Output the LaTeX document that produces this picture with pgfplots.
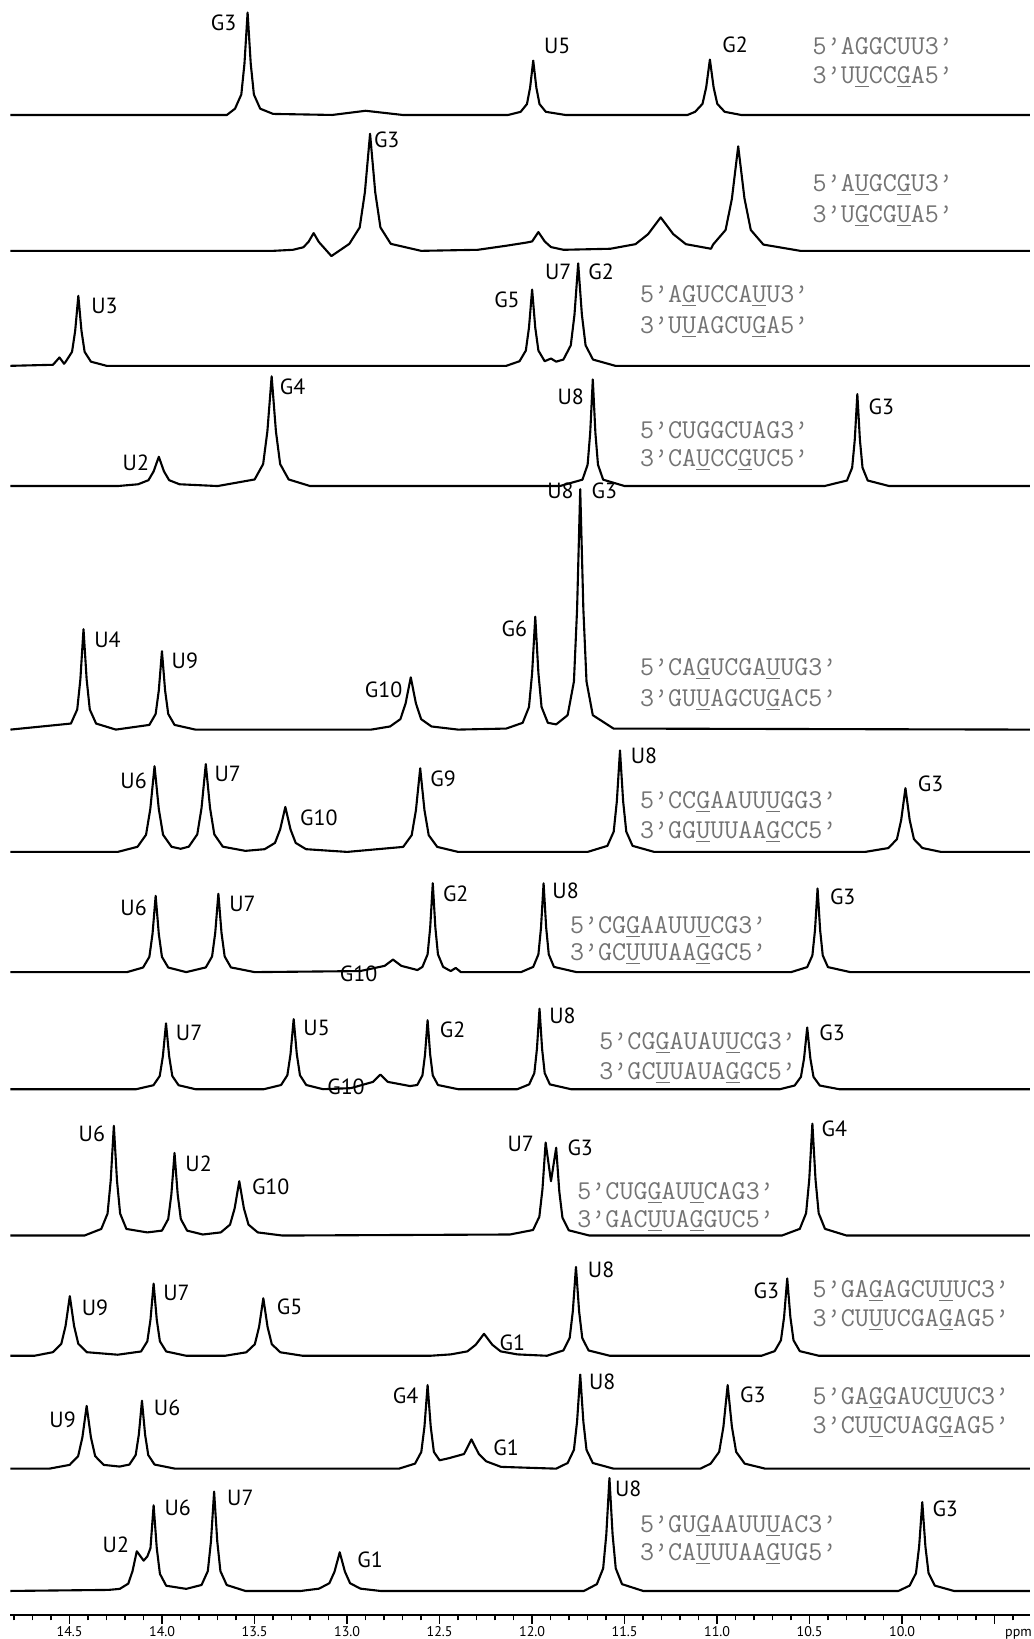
\documentclass[border=0pt]{standalone}
\usepackage{pgfplots}
\pgfplotsset{compat=1.18}
\usepackage{fontspec}
\setmainfont{PT Sans}
\newcommand\ul[1]{\underline{#1}}
\tikzset{
  lab/.style={font=\fontsize{12.5}{12.5}\selectfont, inner sep=0pt},
  seq/.style={font=\ttfamily\fontsize{15.5}{15.5}\selectfont, text=black!55, inner sep=0pt, anchor=west},
}
\begin{document}
\begin{tikzpicture}
\begin{axis}[
  name=ax,
  scale only axis, width=20.386cm, height=32.30cm,
  x dir=reverse, xmin=9.31, xmax=14.82, ymin=0, ymax=1545,
  axis x line*=bottom, axis y line=none,
  x axis line style={-, line width=1.6pt},
  xtick={9.5,10,10.5,11,11.5,12,12.5,13,13.5,14,14.5},
  xticklabels={,10.0,10.5,11.0,11.5,12.0,12.5,13.0,13.5,14.0,14.5},
  minor xtick={9.4,9.6,9.7,9.8,9.9,10.1,10.2,10.3,10.4,10.6,10.7,10.8,10.9,11.1,11.2,11.3,11.4,11.6,11.7,11.8,11.9,12.1,12.2,12.3,12.4,12.6,12.7,12.8,12.9,13.1,13.2,13.3,13.4,13.6,13.7,13.8,13.9,14.1,14.2,14.3,14.4,14.6,14.7,14.8},
  tick align=outside, major tick length=5pt, minor tick length=3pt,
  every tick/.style={black, line width=0.9pt},
  xticklabel style={font=\fontsize{8}{8}\selectfont, inner sep=1.5pt},
  /pgf/number format/assume math mode=true,
  clip=false,
  no markers,
  every axis plot post/.append style={black, solid, line width=1.2pt, line join=round, mark=none},
]
% spectrum 1
\addplot coordinates {(14.82,1435) (13.65,1435) (13.606,1441) (13.572,1454.6) (13.555,1484) (13.538,1533) (13.521,1484) (13.504,1454.6) (13.470,1441) (13.40,1436) (13.08,1435) (12.90,1439) (12.70,1435) (12.13,1435) (12.062,1438) (12.028,1445.4) (12.011,1461) (11.994,1487) (11.977,1461) (11.960,1445.4) (11.926,1438) (11.82,1435) (11.16,1435) (11.119,1438) (11.079,1445.6) (11.059,1461.5) (11.039,1488) (11.019,1461.5) (10.999,1445.6) (10.959,1438) (10.87,1435) (9.31,1435)};
% spectrum 2
\addplot coordinates {(14.82,1305) (13.40,1305) (13.293,1306) (13.237,1308.4) (13.209,1313.5) (13.181,1322) (13.153,1313.5) (13.085,1300) (12.988,1311.7) (12.932,1327.4) (12.904,1361) (12.876,1417) (12.848,1361) (12.820,1327.4) (12.764,1311.7) (12.60,1305) (12.294,1306) (12.136,1310) (12.028,1313) (12.000,1314) (11.966,1323) (11.932,1314) (11.898,1308.6) (11.830,1306) (11.577,1307) (11.441,1311.4) (11.373,1321) (11.305,1337) (11.237,1321) (11.169,1311.4) (11.033,1307) (11.022,1311) (10.954,1325) (10.920,1355) (10.886,1405) (10.852,1355) (10.818,1325) (10.750,1311) (10.55,1305) (9.31,1305)};
% spectrum 3
\addplot coordinates {(14.82,1195) (14.59,1196) (14.555,1203) (14.53,1197) (14.521,1199) (14.487,1208.4) (14.470,1228.5) (14.453,1262) (14.436,1228.5) (14.419,1208.4) (14.385,1199) (14.30,1195) (12.14,1195) (12.068,1199.4) (12.034,1209.6) (12.017,1231.5) (12.000,1268) (11.983,1231.5) (11.966,1209.6) (11.932,1199.4) (11.898,1202) (11.87,1199) (11.831,1201) (11.791,1214.6) (11.771,1244) (11.751,1293) (11.731,1244) (11.711,1214.6) (11.671,1201) (11.55,1195) (9.31,1195)};
% spectrum 4
\addplot coordinates {(14.82,1080) (14.24,1080) (14.130,1081.7) (14.074,1085.6) (14.046,1094) (14.018,1108) (13.990,1094) (13.962,1085.6) (13.906,1081.7) (13.70,1080) (13.500,1086.3) (13.454,1101) (13.431,1132.5) (13.408,1185) (13.385,1132.5) (13.362,1101) (13.316,1086.3) (13.20,1080) (11.85,1080) (11.728,1086.1) (11.700,1100.4) (11.686,1131) (11.672,1182) (11.658,1131) (11.644,1100.4) (11.616,1086.1) (11.50,1080) (10.42,1080) (10.298,1085.3) (10.270,1097.6) (10.256,1124) (10.242,1168) (10.228,1124) (10.214,1097.6) (10.186,1085.3) (10.07,1080) (9.31,1080)};
% spectrum 5
\addplot coordinates {(14.82,847) (14.493,852.8) (14.459,866.2) (14.442,895) (14.425,943) (14.408,895) (14.391,866.2) (14.357,852.8) (14.25,847) (14.069,851.5) (14.035,862) (14.018,884.5) (14.001,922) (13.984,884.5) (13.967,862) (13.933,851.5) (13.82,847) (12.87,847) (12.768,850) (12.712,857) (12.684,872) (12.656,897) (12.628,872) (12.600,857) (12.544,850) (12.40,847) (12.14,848) (12.051,853.5) (12.017,868.6) (12.000,901) (11.983,955) (11.966,901) (11.949,868.6) (11.915,853.5) (11.87,852) (11.808,860.8) (11.774,893) (11.757,962) (11.740,1077) (11.723,962) (11.706,893) (11.672,860.8) (11.56,848) (9.31,847)};
% spectrum 6
\addplot coordinates {(14.82,730) (14.24,730) (14.133,734.9) (14.087,746.4) (14.064,771) (14.041,812) (14.018,771) (13.995,746.4) (13.949,734.9) (13.90,733) (13.856,735) (13.810,746.8) (13.787,772) (13.764,814) (13.741,772) (13.718,746.8) (13.672,735) (13.55,731) (13.446,732.6) (13.390,738.6) (13.362,751.5) (13.334,773) (13.306,751.5) (13.278,738.6) (13.222,732.6) (13.00,730) (12.697,734.8) (12.651,746) (12.628,770) (12.605,810) (12.582,770) (12.559,746) (12.513,734.8) (12.40,730) (11.70,730) (11.593,735.8) (11.559,749.4) (11.542,778.5) (11.525,827) (11.508,778.5) (11.491,749.4) (11.457,735.8) (11.34,730) (10.20,730) (10.074,733.7) (10.028,742.2) (10.005,760.5) (9.982,791) (9.959,760.5) (9.936,742.2) (9.890,733.7) (9.79,730) (9.31,730)};
% spectrum 7
\addplot coordinates {(14.82,615) (14.19,615) (14.103,619.4) (14.069,629.6) (14.052,651.5) (14.035,688) (14.018,651.5) (14.001,629.6) (13.967,619.4) (13.87,615) (13.764,619.5) (13.730,630) (13.713,652.5) (13.696,690) (13.679,652.5) (13.662,630) (13.628,619.5) (13.50,615) (12.93,616) (12.797,621) (12.752,627) (12.707,621) (12.62,617) (12.593,620) (12.565,632) (12.551,657.5) (12.537,700) (12.523,657.5) (12.509,632) (12.481,620) (12.44,616) (12.413,619) (12.385,615) (12.06,615) (11.994,620) (11.966,632) (11.952,657.5) (11.938,700) (11.924,657.5) (11.910,632) (11.882,620) (11.76,615) (10.60,615) (10.513,619.8) (10.485,631) (10.471,655) (10.457,695) (10.443,655) (10.429,631) (10.401,619.8) (10.28,615) (9.31,615)};
% spectrum 8
\addplot coordinates {(14.82,503) (14.14,503) (14.047,506.8) (14.013,515.6) (13.996,534.5) (13.979,566) (13.962,534.5) (13.945,515.6) (13.911,506.8) (13.82,503) (13.45,503) (13.357,507) (13.323,516.4) (13.306,536.5) (13.289,570) (13.272,536.5) (13.255,516.4) (13.221,507) (13.13,503) (12.98,504) (12.860,510) (12.820,517) (12.780,510) (12.66,506) (12.621,507) (12.593,516.2) (12.579,536) (12.565,569) (12.551,536) (12.537,516.2) (12.509,507) (12.40,503) (12.08,503) (12.016,507.6) (11.988,518.4) (11.974,541.5) (11.960,580) (11.946,541.5) (11.932,518.4) (11.904,507.6) (11.79,503) (10.66,503) (10.581,506.5) (10.547,514.8) (10.530,532.5) (10.513,562) (10.496,532.5) (10.479,514.8) (10.445,506.5) (10.34,503) (9.31,503)};
% spectrum 9
\addplot coordinates {(14.82,363) (14.42,363) (14.329,369.3) (14.295,384) (14.278,415.5) (14.261,468) (14.244,415.5) (14.227,384) (14.193,369.3) (14.08,366) (14.001,367.7) (13.967,378.8) (13.950,402.5) (13.933,442) (13.916,402.5) (13.899,378.8) (13.865,367.7) (13.78,364) (13.683,366) (13.633,373.4) (13.608,389) (13.583,415) (13.558,389) (13.533,373.4) (13.483,366) (13.35,363) (12.12,364) (11.995,368.3) (11.961,381) (11.944,407.5) (11.927,452) (11.898,415) (11.870,447) (11.853,405) (11.836,380) (11.802,368) (11.69,363) (10.65,363) (10.553,369.4) (10.519,384.4) (10.502,416.5) (10.485,470) (10.468,416.5) (10.451,384.4) (10.417,369.4) (10.30,363) (9.31,363)};
% spectrum 10
\addplot coordinates {(14.82,248) (14.69,248) (14.591,251.4) (14.545,259.4) (14.522,276.5) (14.499,305) (14.476,276.5) (14.453,259.4) (14.407,251.4) (14.24,249) (14.114,252.1) (14.080,261.8) (14.063,282.5) (14.046,317) (14.029,282.5) (14.012,261.8) (13.978,252.1) (13.87,248) (13.66,248) (13.545,251.3) (13.499,259) (13.476,275.5) (13.453,303) (13.430,275.5) (13.407,259) (13.361,251.3) (13.24,248) (12.55,248) (12.440,249.3) (12.350,252.2) (12.305,258.5) (12.260,269) (12.215,258.5) (12.170,252.2) (12.080,249.3) (11.92,248) (11.831,253.1) (11.797,265) (11.780,290.5) (11.763,333) (11.746,290.5) (11.729,265) (11.695,253.1) (11.58,248) (10.76,248) (10.689,252.4) (10.655,262.8) (10.638,285) (10.621,322) (10.604,285) (10.587,262.8) (10.553,252.4) (10.45,248) (9.31,248)};
% spectrum 11
\addplot coordinates {(14.82,140) (14.61,140) (14.500,143.6) (14.454,152) (14.431,170) (14.408,200) (14.385,170) (14.362,152) (14.316,143.6) (14.23,142) (14.177,143.9) (14.143,153) (14.126,172.5) (14.109,205) (14.092,172.5) (14.075,153) (14.041,143.9) (13.93,140) (12.72,140) (12.633,144.8) (12.599,156) (12.582,180) (12.565,220) (12.548,180) (12.531,156) (12.50,148) (12.45,150) (12.368,154) (12.328,168) (12.288,154) (12.248,147) (12.168,141.7) (11.87,140) (11.808,145.4) (11.774,158) (11.757,185) (11.740,230) (11.723,185) (11.706,158) (11.672,145.4) (11.56,140) (11.09,140) (11.035,144.8) (10.989,156) (10.966,180) (10.943,220) (10.920,180) (10.897,156) (10.851,144.8) (10.74,140) (9.31,140)};
% spectrum 12
\addplot coordinates {(14.82,23) (14.29,24) (14.229,25) (14.183,30) (14.160,42) (14.137,61) (14.100,52) (14.080,56) (14.063,64) (14.046,105) (14.029,64) (14.012,39.4) (13.978,28) (13.87,25) (13.787,28.7) (13.753,42) (13.736,70.5) (13.719,118) (13.702,70.5) (13.685,42) (13.651,28.7) (13.55,23) (13.25,23) (13.152,25.2) (13.096,30.4) (13.068,41.5) (13.040,60) (13.012,41.5) (12.984,30.4) (12.928,25.2) (12.82,23) (11.72,23) (11.650,29.5) (11.616,44.6) (11.599,77) (11.582,131) (11.565,77) (11.548,44.6) (11.514,29.5) (11.40,23) (10.02,23) (9.959,28.1) (9.925,40) (9.908,65.5) (9.891,108) (9.874,65.5) (9.857,40) (9.823,28.1) (9.72,23) (9.31,23)};

% peak labels
\node[lab] at (axis cs:13.668,1523) {G3};
\node[lab] at (axis cs:11.864,1501) {U5};
\node[lab] at (axis cs:10.903,1502) {G2};
\node[lab] at (axis cs:12.786,1411) {G3};
\node[lab] at (axis cs:14.312,1252) {U3};
\node[lab] at (axis cs:12.136,1258) {G5};
\node[lab] at (axis cs:11.859,1285) {U7};
\node[lab] at (axis cs:11.627,1285) {G2};
\node[lab] at (axis cs:14.142,1102) {U2};
\node[lab] at (axis cs:13.295,1175) {G4};
\node[lab] at (axis cs:11.791,1165) {U8};
\node[lab] at (axis cs:10.112,1156) {G3};
\node[lab] at (axis cs:14.295,933) {U4};
\node[lab] at (axis cs:13.877,913) {U9};
\node[lab] at (axis cs:12.803,885) {G10};
\node[lab] at (axis cs:12.096,943) {G6};
\node[lab] at (axis cs:11.847,1075) {U8};
\node[lab] at (axis cs:11.610,1075) {G3};
\node[lab] at (axis cs:14.154,798) {U6};
\node[lab] at (axis cs:13.645,805) {U7};
\node[lab] at (axis cs:13.153,763) {G10};
\node[lab] at (axis cs:12.481,800) {G9};
\node[lab] at (axis cs:11.395,822) {U8};
\node[lab] at (axis cs:9.846,795) {G3};
\node[lab] at (axis cs:14.154,677) {U6};
\node[lab] at (axis cs:13.566,680) {U7};
\node[lab] at (axis cs:12.938,613) {G10};
\node[lab] at (axis cs:12.413,690) {G2};
\node[lab] at (axis cs:11.819,693) {U8};
\node[lab] at (axis cs:10.321,687) {G3};
\node[lab] at (axis cs:13.854,557) {U7};
\node[lab] at (axis cs:13.165,562) {U5};
\node[lab] at (axis cs:13.006,505) {G10};
\node[lab] at (axis cs:12.430,560) {G2};
\node[lab] at (axis cs:11.836,573) {U8};
\node[lab] at (axis cs:10.378,557) {G3};
\node[lab] at (axis cs:14.380,460) {U6};
\node[lab] at (axis cs:13.803,432) {U2};
\node[lab] at (axis cs:13.413,410) {G10};
\node[lab] at (axis cs:12.062,451) {U7};
\node[lab] at (axis cs:11.740,447) {G3};
\node[lab] at (axis cs:10.366,465) {G4};
\node[lab] at (axis cs:14.363,294) {U9};
\node[lab] at (axis cs:13.922,308) {U7};
\node[lab] at (axis cs:13.311,295) {G5};
\node[lab] at (axis cs:12.107,260) {G1};
\node[lab] at (axis cs:11.627,330) {U8};
\node[lab] at (axis cs:10.734,310) {G3};
\node[lab] at (axis cs:14.538,187) {U9};
\node[lab] at (axis cs:13.973,198) {U6};
\node[lab] at (axis cs:12.684,210) {G4};
\node[lab] at (axis cs:12.141,160) {G1};
\node[lab] at (axis cs:11.621,223) {U8};
\node[lab] at (axis cs:10.807,211) {G3};
\node[lab] at (axis cs:14.250,67) {U2};
\node[lab] at (axis cs:13.916,103) {U6};
\node[lab] at (axis cs:13.577,112) {U7};
\node[lab] at (axis cs:12.876,53) {G1};
\node[lab] at (axis cs:11.480,121) {U8};
\node[lab] at (axis cs:9.767,102) {G3};

% sequences
\node[seq] at (axis cs:10.485,1501) {5’AGGCUU3’};
\node[seq] at (axis cs:10.485,1471) {3’U\ul{U}CC\ul{G}A5’};
\node[seq] at (axis cs:10.485,1368) {5’A\ul{U}GC\ul{G}U3’};
\node[seq] at (axis cs:10.485,1338) {3’U\ul{G}CG\ul{U}A5’};
\node[seq] at (axis cs:11.418,1262) {5’A\ul{G}UCCA\ul{U}U3’};
\node[seq] at (axis cs:11.418,1232) {3’U\ul{U}AGCU\ul{G}A5’};
\node[seq] at (axis cs:11.418,1133) {5’CUGGCUAG3’};
\node[seq] at (axis cs:11.418,1105) {3’CA\ul{U}CC\ul{G}UC5’};
\node[seq] at (axis cs:11.418,905) {5’CA\ul{G}UCGA\ul{U}UG3’};
\node[seq] at (axis cs:11.418,875) {3’GU\ul{U}AGCU\ul{G}AC5’};
\node[seq] at (axis cs:11.418,778) {5’CC\ul{G}AAUU\ul{U}GG3’};
\node[seq] at (axis cs:11.418,749) {3’GG\ul{U}UUAA\ul{G}CC5’};
\node[seq] at (axis cs:11.797,658) {5’CG\ul{G}AAUU\ul{U}CG3’};
\node[seq] at (axis cs:11.797,632) {3’GC\ul{U}UUAA\ul{G}GC5’};
\node[seq] at (axis cs:11.638,547) {5’CG\ul{G}AUAU\ul{U}CG3’};
\node[seq] at (axis cs:11.638,519) {3’GC\ul{U}UAUA\ul{G}GC5’};
\node[seq] at (axis cs:11.757,404) {5’CUG\ul{G}AU\ul{U}CAG3’};
\node[seq] at (axis cs:11.757,377) {3’GAC\ul{U}UA\ul{G}GUC5’};
\node[seq] at (axis cs:10.485,310) {5’GA\ul{G}AGCU\ul{U}UC3’};
\node[seq] at (axis cs:10.485,282) {3’CU\ul{U}UCGA\ul{G}AG5’};
\node[seq] at (axis cs:10.485,208) {5’GA\ul{G}GAUC\ul{U}UC3’};
\node[seq] at (axis cs:10.485,180) {3’CU\ul{U}CUAG\ul{G}AG5’};
\node[seq] at (axis cs:11.418,85) {5’GU\ul{G}AAUU\ul{U}AC3’};
\node[seq] at (axis cs:11.418,58) {3’CA\ul{U}UUAA\ul{G}UG5’};

\node[anchor=base, inner sep=0pt, font=\fontsize{8}{8}\selectfont] at (axis cs:9.371,0) [yshift=-12.3pt] {ppm};
\end{axis}
\pgfresetboundingbox
\path[use as bounding box] ([xshift=-0.209cm,yshift=-0.48cm]ax.south west) rectangle ([xshift=0.084cm]ax.north east);
\end{tikzpicture}
\end{document}
